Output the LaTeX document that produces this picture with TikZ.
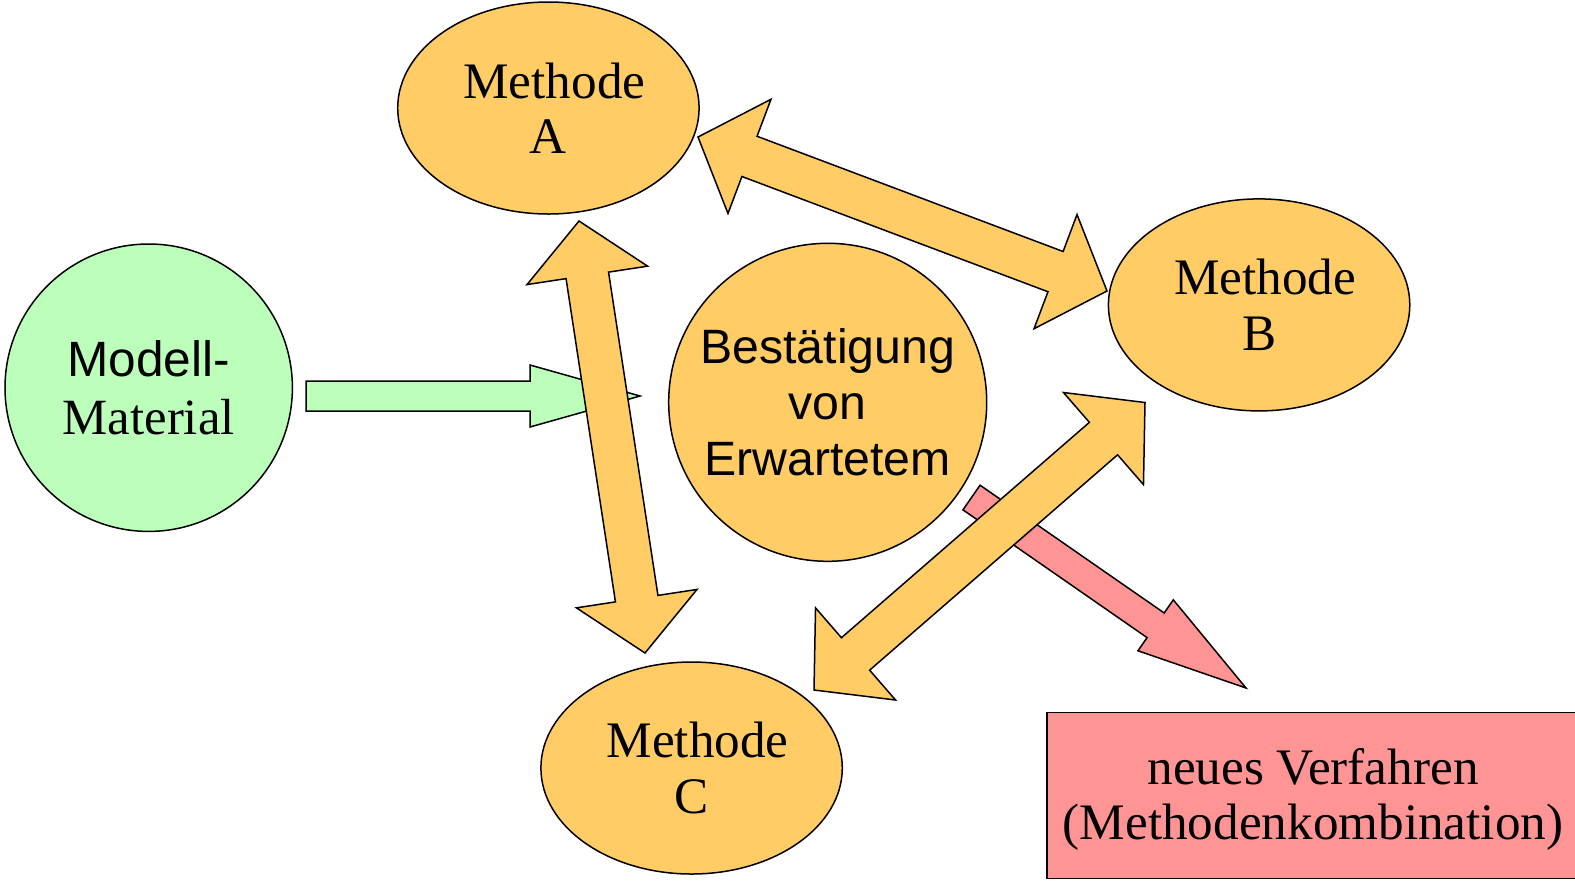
\documentclass[tikz,border=0pt]{standalone}
\usepackage{fontspec}
\setmainfont{Liberation Serif}
\setsansfont{Liberation Sans}
\usetikzlibrary{calc, shapes.geometric}

\definecolor{methorange}{RGB}{255,204,102}
\definecolor{modellgruen}{RGB}{187,255,187}
\definecolor{neurosa}{RGB}{255,148,148}

% Blockpfeil mit zwei Spitzen: #1 und #2 Spitzen, #3 Farbe
\newcommand{\doppelpfeil}[3]{%
  \draw[blockpfeil, fill=#3] (#1)
    -- ($(#1)!27.5pt!(#2)!30.5pt!90:(#2)$)
    -- ($(#1)!27.5pt!(#2)!10.75pt!90:(#2)$)
    -- ($(#2)!27.5pt!(#1)!10.75pt!-90:(#1)$)
    -- ($(#2)!27.5pt!(#1)!30.5pt!-90:(#1)$)
    -- (#2)
    -- ($(#2)!27.5pt!(#1)!30.5pt!90:(#1)$)
    -- ($(#2)!27.5pt!(#1)!10.75pt!90:(#1)$)
    -- ($(#1)!27.5pt!(#2)!10.75pt!-90:(#2)$)
    -- ($(#1)!27.5pt!(#2)!30.5pt!-90:(#2)$)
    -- cycle;}
% Blockpfeil mit einer Spitze: #1 Schaftende, #2 Spitze, #3 Farbe
\newcommand{\einzelpfeil}[3]{%
  \draw[blockpfeil, fill=#3] ($(#1)!7.5pt!90:(#2)$)
    -- ($(#2)!55pt!(#1)!7.5pt!-90:(#1)$)
    -- ($(#2)!55pt!(#1)!15.5pt!-90:(#1)$)
    -- (#2)
    -- ($(#2)!55pt!(#1)!15.5pt!90:(#1)$)
    -- ($(#2)!55pt!(#1)!7.5pt!90:(#1)$)
    -- ($(#1)!7.5pt!-90:(#2)$)
    -- cycle;}

\begin{document}
\begin{tikzpicture}[x=0.5pt, y=-0.5pt, line width=0.75pt,
  blockpfeil/.style={draw=black, line join=miter},
  methode/.style={ellipse, draw, fill=methorange, minimum width=150.7pt,
    minimum height=106pt, inner sep=0pt, align=center,
    font=\fontsize{25.6}{27.6}\selectfont},
  kreis/.style={circle, draw, inner sep=0pt, align=center}]
  \useasboundingbox (0,0) rectangle (1575,880);
  % Methoden
  \node[methode] (methA) at (548.4,108) {\hspace*{6pt}Methode\\A};
  \node[methode] (methB) at (1259.1,304.9) {\hspace*{6pt}Methode\\B};
  \node[methode] (methC) at (691.6,768) {\hspace*{6pt}Methode\\C};
  % Modell und Bestaetigung
  \node[kreis, fill=modellgruen, minimum size=143.7pt,
    font=\fontsize{25.4}{29}\selectfont] (modell) at (148.7,387.7)
    {{\sffamily\fontsize{24.8}{29}\selectfont Modell-}\\Material};
  \node[kreis, fill=methorange, minimum size=159pt,
    font=\sffamily\fontsize{24.1}{28}\selectfont] (best) at (827.7,402.3)
    {Bestätigung\\von\\Erwartetem};
  % neues Verfahren
  \node[draw, fill=neurosa, minimum width=266pt, minimum height=83pt,
    inner sep=0pt, align=center, text height=49.5pt,
    font=\fontsize{25.6}{27.6}\selectfont]
    (neu) at (1313,795.5) {neues Verfahren\\(Methodenkombination)};
  % Pfeilspitzen
  \coordinate (gr1) at (306,396);
  \coordinate (gr2) at (640,396);
  \coordinate (ro1) at (971.5,497.5);
  \coordinate (ro2) at (1246,688);
  \coordinate (ab1) at (698,137);
  \coordinate (ab2) at (1107,291);
  \coordinate (ac1) at (579,221);
  \coordinate (ac2) at (645,653);
  \coordinate (bc1) at (1145,402.5);
  \coordinate (bc2) at (814,690);
  % Pfeile
  \einzelpfeil{gr1}{gr2}{modellgruen}
  \einzelpfeil{ro1}{ro2}{neurosa}
  \doppelpfeil{ab1}{ab2}{methorange}
  \doppelpfeil{ac1}{ac2}{methorange}
  \doppelpfeil{bc1}{bc2}{methorange}
\end{tikzpicture}
\end{document}
